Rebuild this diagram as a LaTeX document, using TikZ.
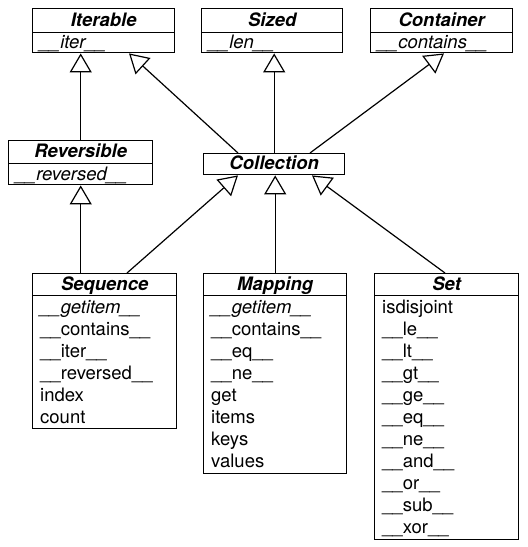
\documentclass[tikz,border=0pt]{standalone}
\usepackage{fontspec}
\setmainfont{TeX Gyre Heros}
\usetikzlibrary{arrows.meta}
\tikzset{
  hdr/.style={draw, line width=1.4pt, inner sep=0pt, anchor=north west,
    text height=13.5pt, text depth=2pt,
    font=\fontsize{18.5}{22}\selectfont\bfseries\itshape},
  body/.style={draw, line width=1.4pt, inner sep=0pt, anchor=north west},
  mem/.style={inner sep=0pt, anchor=north west, align=left,
    font=\fontsize{18.5}{22}\selectfont},
  inh/.style={line width=1.2pt, -{Triangle[open, length=19pt, width=22pt, line width=1.2pt]}},
}
\newcommand{\fl}{\rule{0pt}{14pt}}
\begin{document}
\begin{tikzpicture}[x=1pt,y=-1pt]
\useasboundingbox (0,0) rectangle (528,547);
% top row
\node[hdr, minimum width=142pt, minimum height=24pt] (iter) at (32,8) {Iterable};
\node[body, minimum width=142pt, minimum height=20pt] (iterM) at (32,32) {};
\node[mem, xshift=7.5pt, yshift=-2pt] (iterL) at (iterM.north west) {\fl\itshape\_\_iter\_\_};

\node[hdr, minimum width=141pt, minimum height=24pt] (sized) at (201,8) {Sized};
\node[body, minimum width=141pt, minimum height=20pt] (sizedM) at (201,32) {};
\node[mem, xshift=7.5pt, yshift=-2pt] (sizedL) at (sizedM.north west) {\fl\itshape\_\_len\_\_};

\node[hdr, minimum width=142pt, minimum height=24pt] (cont) at (370,8) {Container};
\node[body, minimum width=142pt, minimum height=20pt] (contM) at (370,32) {};
\node[mem, xshift=7.5pt, yshift=-2pt] (contL) at (contM.north west) {\fl\itshape\_\_contains\_\_};

% middle row
\node[hdr, minimum width=144pt, minimum height=23pt] (rev) at (8,140) {Reversible};
\node[body, minimum width=144pt, minimum height=21pt] (revM) at (8,163) {};
\node[mem, xshift=7.5pt, yshift=-3pt] (revL) at (revM.north west) {\fl\itshape\_\_reversed\_\_};

\node[hdr, minimum width=141pt, minimum height=21pt] (coll) at (203,153) {Collection};

% bottom row
\node[hdr, minimum width=144pt, minimum height=22pt] (seq) at (32,273) {Sequence};
\node[body, minimum width=144pt, minimum height=133pt] (seqM) at (32,295) {};
\node[mem, xshift=8pt, yshift=-4pt] (seqL) at (seqM.north west)
  {\fl{\itshape\_\_getitem\_\_}\\ \_\_contains\_\_\\ \_\_iter\_\_\\ \_\_reversed\_\_\\ index\\ count};

\node[hdr, minimum width=143pt, minimum height=22pt] (map) at (203,273) {Mapping};
\node[body, minimum width=143pt, minimum height=178pt] (mapM) at (203,295) {};
\node[mem, xshift=8pt, yshift=-4pt] (mapL) at (mapM.north west)
  {\fl{\itshape\_\_getitem\_\_}\\ \_\_contains\_\_\\ \_\_eq\_\_\\ \_\_ne\_\_\\ get\\ items\\ keys\\ values};

\node[hdr, minimum width=144pt, minimum height=22pt] (set) at (374,273) {Set};
\node[body, minimum width=144pt, minimum height=244pt] (setM) at (374,295) {};
\node[mem, xshift=8pt, yshift=-4pt] (setL) at (setM.north west)
  {\fl isdisjoint\\ \_\_le\_\_\\ \_\_lt\_\_\\ \_\_gt\_\_\\ \_\_ge\_\_\\ \_\_eq\_\_\\ \_\_ne\_\_\\ \_\_and\_\_\\ \_\_or\_\_\\ \_\_sub\_\_\\ \_\_xor\_\_};

% inheritance connectors
\draw[inh] (rev.north) -- (rev.north |- iterM.south);
\draw[inh] ([xshift=35pt]coll.north west) -- ([xshift=97pt]iterM.south west);
\draw[inh] (coll.north) -- (coll.north |- sizedM.south);
\draw[inh] ([xshift=107pt]coll.north west) -- ([xshift=74pt]contM.south west);
\draw[inh] (revM.south |- seq.north) -- (revM.south);
\draw[inh] ([xshift=95pt]seq.north west) -- ([xshift=35pt]coll.south west);
\draw[inh] (map.north) -- (map.north |- coll.south);
\draw[inh] ([xshift=71pt]set.north west) -- ([xshift=109pt]coll.south west);
\end{tikzpicture}
\end{document}
